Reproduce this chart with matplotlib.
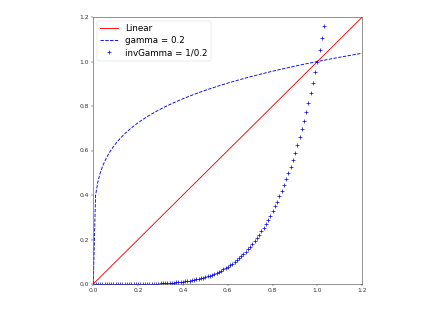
import matplotlib
matplotlib.use("Agg")
import matplotlib.pyplot as plt

# luoi x (0 -> 1.2, buoc 0.01)
x_vals = [0.00, 0.01, 0.02, 0.03, 0.04, 0.05, 0.06, 0.07, 0.08, 0.09,
          0.10, 0.11, 0.12, 0.13, 0.14, 0.15, 0.16, 0.17, 0.18, 0.19,
          0.20, 0.21, 0.22, 0.23, 0.24, 0.25, 0.26, 0.27, 0.28, 0.29,
          0.30, 0.31, 0.32, 0.33, 0.34, 0.35, 0.36, 0.37, 0.38, 0.39,
          0.40, 0.41, 0.42, 0.43, 0.44, 0.45, 0.46, 0.47, 0.48, 0.49,
          0.50, 0.51, 0.52, 0.53, 0.54, 0.55, 0.56, 0.57, 0.58, 0.59,
          0.60, 0.61, 0.62, 0.63, 0.64, 0.65, 0.66, 0.67, 0.68, 0.69,
          0.70, 0.71, 0.72, 0.73, 0.74, 0.75, 0.76, 0.77, 0.78, 0.79,
          0.80, 0.81, 0.82, 0.83, 0.84, 0.85, 0.86, 0.87, 0.88, 0.89,
          0.90, 0.91, 0.92, 0.93, 0.94, 0.95, 0.96, 0.97, 0.98, 0.99,
          1.00, 1.01, 1.02, 1.03, 1.04, 1.05, 1.06, 1.07, 1.08, 1.09,
          1.10, 1.11, 1.12, 1.13, 1.14, 1.15, 1.16, 1.17, 1.18, 1.19,
          1.20]

# gamma = 0.2
gamma_vals = [0.0000, 0.3981, 0.4573, 0.4959, 0.5253, 0.5493, 0.5697, 0.5875, 0.6034, 0.6178,
              0.6310, 0.6431, 0.6544, 0.6649, 0.6749, 0.6843, 0.6931, 0.7016, 0.7097, 0.7174,
              0.7248, 0.7319, 0.7387, 0.7453, 0.7517, 0.7579, 0.7638, 0.7696, 0.7752, 0.7807,
              0.7860, 0.7912, 0.7962, 0.8011, 0.8059, 0.8106, 0.8152, 0.8197, 0.8240, 0.8283,
              0.8326, 0.8367, 0.8407, 0.8447, 0.8486, 0.8524, 0.8562, 0.8598, 0.8635, 0.8670,
              0.8706, 0.8740, 0.8774, 0.8808, 0.8840, 0.8873, 0.8905, 0.8937, 0.8968, 0.8998,
              0.9029, 0.9059, 0.9088, 0.9117, 0.9146, 0.9175, 0.9203, 0.9230, 0.9258, 0.9285,
              0.9312, 0.9338, 0.9364, 0.9390, 0.9416, 0.9441, 0.9466, 0.9491, 0.9515, 0.9540,
              0.9564, 0.9587, 0.9611, 0.9634, 0.9657, 0.9680, 0.9703, 0.9725, 0.9748, 0.9770,
              0.9791, 0.9813, 0.9835, 0.9856, 0.9877, 0.9898, 0.9919, 0.9939, 0.9960, 0.9980,
              1.0000, 1.0020, 1.0040, 1.0059, 1.0079, 1.0098, 1.0117, 1.0136, 1.0155, 1.0174,
              1.0192, 1.0211, 1.0229, 1.0247, 1.0266, 1.0283, 1.0301, 1.0319, 1.0337, 1.0354,
              1.0371]

# invGamma = 1/0.2
inv_vals = [0.0000, 0.0000, 0.0000, 0.0000, 0.0000, 0.0000, 0.0000, 0.0000, 0.0000, 0.0000,
            0.0000, 0.0000, 0.0000, 0.0000, 0.0001, 0.0001, 0.0001, 0.0001, 0.0002, 0.0002,
            0.0003, 0.0004, 0.0005, 0.0006, 0.0008, 0.0010, 0.0012, 0.0014, 0.0017, 0.0021,
            0.0024, 0.0029, 0.0034, 0.0039, 0.0045, 0.0053, 0.0060, 0.0069, 0.0079, 0.0090,
            0.0102, 0.0116, 0.0131, 0.0147, 0.0165, 0.0185, 0.0206, 0.0229, 0.0255, 0.0282,
            0.0313, 0.0345, 0.0380, 0.0418, 0.0459, 0.0503, 0.0551, 0.0602, 0.0656, 0.0715,
            0.0778, 0.0845, 0.0916, 0.0992, 0.1074, 0.1160, 0.1252, 0.1350, 0.1454, 0.1564,
            0.1681, 0.1804, 0.1935, 0.2073, 0.2219, 0.2373, 0.2536, 0.2707, 0.2887, 0.3077,
            0.3277, 0.3487, 0.3707, 0.3939, 0.4182, 0.4437, 0.4704, 0.4984, 0.5277, 0.5584,
            0.5905, 0.6240, 0.6591, 0.6957, 0.7339, 0.7738, 0.8154, 0.8587, 0.9039, 0.9510,
            1.0000, 1.0510, 1.1041, 1.1593, 1.2167, 1.2763, 1.3382, 1.4026, 1.4693, 1.5386,
            1.6105, 1.6851, 1.7623, 1.8424, 1.9254, 2.0114, 2.1003, 2.1924, 2.2878, 2.3864,
            2.4883]

linear_vals = x_vals
tick_vals = [0.0, 0.2, 0.4, 0.6, 0.8, 1.0, 1.2]

fig = plt.figure(figsize=(4.3, 3.09), dpi=100)
ax = fig.add_axes([93.3 / 430, 25 / 309, 269 / 430, 267 / 309])

ax.plot(x_vals, linear_vals, color='red', linewidth=0.65, label='Linear')
ax.plot(x_vals, gamma_vals, color='blue', linestyle='--', linewidth=0.65,
        dashes=(3.7, 1.6), label='gamma = 0.2')
ax.plot(x_vals, inv_vals, color='blue', linestyle='none', marker='+',
        markersize=2.6, markeredgewidth=0.5, label='invGamma = 1/0.2')

ax.set_xlim(0, 1.2)
ax.set_ylim(0, 1.2)
ax.set_xticks(tick_vals)
ax.set_yticks(tick_vals)
ax.set_xticklabels([f"{v:.1f}" for v in tick_vals])
ax.set_yticklabels([f"{v:.1f}" for v in tick_vals])
ax.tick_params(labelsize=4.3, length=1.5, width=0.35, pad=1.5, colors='#333333')
for s in ax.spines.values():
    s.set_linewidth(0.45)
    s.set_color('#555555')

leg = ax.legend(loc='upper left', fontsize=6.3, handlelength=2.0, borderpad=0.4,
                labelspacing=0.35, handletextpad=0.8, borderaxespad=0.4)
leg.get_frame().set_linewidth(0.35)

fig.savefig('out.png', dpi=100)
